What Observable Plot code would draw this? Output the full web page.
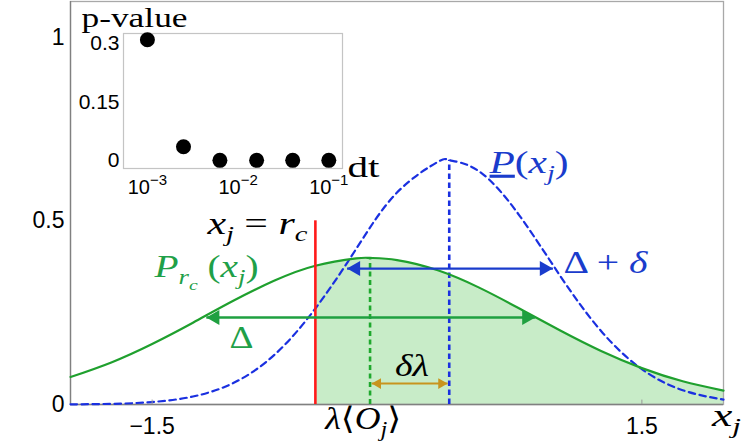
<!DOCTYPE html>
<html>
<head>
<meta charset="utf-8">
<script src="https://cdn.jsdelivr.net/npm/d3@7"></script>
<script src="https://cdn.jsdelivr.net/npm/@observablehq/plot@0.6"></script>
<style>
  html, body { margin: 0; padding: 0; background: white; }
  #wrap { position: relative; width: 748px; height: 443px; }
  #wrap svg text { white-space: pre; }
</style>
</head>
<body>
<div id="wrap"></div>
<script>
// ---------- main chart data ----------
const xTicks = [-1.5, 1.5];
const yTicks = [0, 0.5, 1];

// green density P_rc(x_j)
const greenX = [-2, -1.75, -1.5, -1.25, -1, -0.75, -0.5, -0.25, -0.165, 0, 0.25, 0.5, 0.75, 1, 1.25, 1.5, 1.75, 2];
const greenY = [0.0748, 0.1146, 0.1648, 0.2227, 0.2829, 0.3373, 0.3778, 0.3977, 0.399, 0.3932, 0.3653, 0.3188, 0.2613, 0.2013, 0.1456, 0.0990, 0.0632, 0.0379];

// blue dashed density P(x_j)
const blueX = [-2, -1.75, -1.5, -1.25, -1, -0.75, -0.5, -0.25, 0, 0.25, 0.32, 0.5, 0.75, 1, 1.25, 1.5, 1.75, 2];
const blueY = [0.0004, 0.0017, 0.0067, 0.0217, 0.0591, 0.1356, 0.2614, 0.4235, 0.5768, 0.6605, 0.665, 0.6357, 0.5144, 0.3499, 0.2001, 0.0961, 0.0389, 0.0132];

// threshold x_j = r_c
const threshold = [-0.5];
const thresholdTop = [0.5];

// dashed verticals at the means
const meanNames = ["green", "blue"];
const meanX = [-0.165, 0.32];
const meanTop = [0.399, 0.665];

// double-headed arrows
const arrowNames = ["Delta+delta", "Delta", "deltaLambda"];
const arrowX1 = [-0.306, -1.168, -0.155];
const arrowX2 = [0.955, 0.847, 0.31];
const arrowY = [0.37, 0.237, 0.057];

// text labels
const labelText = ["xj = rc", "Prc(xj)", "Δ", "Δ + δ", "P(xj)", "δλ", "λ⟨Oj⟩", "xj"];
const labelX = [-0.549, -1.485, -0.953, 1.02, 0.567, 0.092, -0.439, 1.929];
const labelY = [0.465, 0.348, 0.155, 0.358, 0.631, 0.078, -0.066, -0.058];

// ---------- inset data ----------
const dtValues = [0.001, 0.0025, 0.0063, 0.016, 0.04, 0.1];
const pValues = [0.31, 0.035, 0, 0, 0, 0];
const insetXTicks = [0.001, 0.01, 0.1];
const insetYTicks = [0, 0.15, 0.3];
const insetYLabel = ["p-value"];
const insetXLabel = ["dt"];

// ---------- styling (kept apart from the data) ----------
const arrowStyle = {
  "Delta+delta": {color: "#1a3ccc", w: 2.4, r: 5.6},
  "Delta": {color: "#1fa040", w: 2.4, r: 5.6},
  "deltaLambda": {color: "#c8941e", w: 2, r: 4}
};
const labelStyle = {
  "xj = rc": {a: "end", c: "black", w: 100},
  "Prc(xj)": {a: "start", c: "#1fa048", w: 104},
  "Δ": {a: "middle", c: "#1fa048", w: 24},
  "Δ + δ": {a: "start", c: "#1a3ccc", w: 84},
  "P(xj)": {a: "start", c: "#1a3ccc", w: 79},
  "δλ": {a: "middle", c: "black", w: 34},
  "λ⟨Oj⟩": {a: "start", c: "black", w: 76},
  "xj": {a: "start", c: "black", w: 29},
  "p-value": {w: 106},
  "dt": {w: 32}
};
const rich = {
  "xj = rc": [["x","i"],["j","i",1],[" = ",""],["r","i"],["c","i",1]],
  "Prc(xj)": [["P","i"],["r","i",1],["c","i",2],[" (",""],["x","i"],["j","i",1],[")",""]],
  "Δ": [["Δ",""]],
  "Δ + δ": [["Δ",""],[" + ",""],["δ","i"]],
  "P(xj)": [["P","iu"],["(",""],["x","i"],["j","i",1],[")",""]],
  "δλ": [["δλ","i"]],
  "λ⟨Oj⟩": [["λ","i"],["⟨",""],["O","i"],["j","i",1],["⟩",""]],
  "xj": [["x","i"],["j","i",1]]
};

// ---------- tables ----------
const green = greenX.map((x, i) => ({x, y: greenY[i]}));
const blue = blueX.map((x, i) => ({x, y: blueY[i]}));
const greenFill = green.filter(d => d.x >= threshold[0]);
const means = meanNames.map((n, i) => ({n, x: meanX[i], top: meanTop[i]}));
const arrows = arrowNames.map((n, i) => ({n, x1: arrowX1[i], x2: arrowX2[i], y: arrowY[i], ...arrowStyle[n]}));
const labels = labelText.map((t, i) => ({t, x: labelX[i], y: labelY[i], a: labelStyle[t].a, c: labelStyle[t].c}));
const insetData = dtValues.map((dt, i) => ({dt, p: pValues[i]}));

const serif = "'Liberation Serif', 'DejaVu Serif', serif";
const sans = "'Liberation Sans', Arial, sans-serif";

function headMarks(dir) {
  return arrows.map(a => Plot.dot([a], {
    x: dir > 0 ? "x2" : "x1", y: "y", symbol: "triangle", r: a.r,
    fill: a.color, stroke: "none", rotate: dir > 0 ? 90 : -90,
    dx: -dir * 2 * Math.sqrt(Math.PI * a.r * a.r / (3 * Math.sqrt(3)))
  }));
}

function labelMarks(anchor) {
  return Plot.text(labels.filter(d => d.a === anchor), {
    x: "x", y: "y", text: "t", textAnchor: anchor, fill: "c",
    fontFamily: serif, fontSize: 31, lineAnchor: "bottom"
  });
}

const main = Plot.plot({
  width: 748, height: 443,
  marginLeft: 70, marginRight: 25, marginTop: 1, marginBottom: 39,
  x: {domain: [-2, 2]},
  y: {domain: [0, 1.097]},
  style: {fontFamily: sans, fontSize: "23px", color: "black", background: "white", overflow: "visible"},
  marks: [
    Plot.areaY(greenFill, {x: "x", y: "y", fill: "#c8ecc8", curve: "natural"}),
    Plot.frame({stroke: "#a8a8a8", strokeWidth: 1.3}),
    Plot.ruleY([0], {stroke: "#808080", strokeWidth: 1.3}),
    Plot.ruleX([-2], {stroke: "#808080", strokeWidth: 1.3}),
    Plot.ruleX(means.filter(d => d.n === "green"), {x: "x", y1: 0, y2: "top", stroke: "#1fa82e", strokeWidth: 2.6, strokeDasharray: "5,3.5"}),
    Plot.ruleX(means.filter(d => d.n === "blue"), {x: "x", y1: 0, y2: "top", stroke: "#1a30e0", strokeWidth: 2.6, strokeDasharray: "5.5,3.5"}),
    Plot.line(blue, {x: "x", y: "y", stroke: "#1a30e0", strokeWidth: 2.2, strokeDasharray: "6.5,4.5", curve: "natural"}),
    Plot.line(green, {x: "x", y: "y", stroke: "#1fa02e", strokeWidth: 2.2, curve: "natural"}),
    Plot.ruleX(threshold, {x: d => d, y1: 0, y2: thresholdTop[0], stroke: "#ff1a1a", strokeWidth: 2.6}),
    Plot.link(arrows, {x1: "x1", x2: "x2", y1: "y", y2: "y", stroke: "color", strokeWidth: "w"}),
    ...headMarks(1),
    ...headMarks(-1),
    Plot.ruleX(xTicks, {x: d => d, y1: 0, y2: 0.012, stroke: "#999"}),
    Plot.axisX({ticks: xTicks, tickSize: 0, tickPadding: 13, label: null}),
    Plot.axisY({ticks: yTicks, tickSize: 0, tickPadding: 6, label: null, tickFormat: d => String(d)}),
    labelMarks("start"),
    labelMarks("middle"),
    labelMarks("end")
  ]
});

const inset = Plot.plot({
  width: 400, height: 200,
  marginLeft: 123, marginRight: 58, marginTop: 33, marginBottom: 32,
  x: {type: "log", domain: [0.000545, 0.1416]},
  y: {domain: [-0.021, 0.326]},
  style: {fontFamily: sans, fontSize: "21px", color: "black", background: "transparent", overflow: "visible"},
  marks: [
    Plot.frame({stroke: "#c4c4c4", strokeWidth: 1.2}),
    Plot.axisX({ticks: insetXTicks, tickSize: 0, tickPadding: 11, label: null,
      tickFormat: d => "10^" + Math.round(Math.log10(d))}),
    Plot.axisY({ticks: insetYTicks, tickSize: 0, tickPadding: 4, label: null,
      tickFormat: d => String(d)}),
    Plot.dot(insetData, {x: "dt", y: "p", r: 7.5, fill: "black", stroke: "none"}),
    Plot.text(insetYLabel, {frameAnchor: "top-left", text: d => d, textAnchor: "start", lineAnchor: "bottom",
      dx: -42, dy: -7, fontFamily: serif, fontSize: 28}),
    Plot.text(insetXLabel, {frameAnchor: "bottom-right", text: d => d, textAnchor: "start", lineAnchor: "bottom",
      dx: 5, dy: 8, fontFamily: serif, fontSize: 30})
  ]
});
inset.style.position = "absolute";
inset.style.left = "0px";
inset.style.top = "0px";

const wrap = document.getElementById("wrap");
wrap.appendChild(main);
wrap.appendChild(inset);

// explicit tick-label font sizes, set on the text elements themselves
function tickFont(root, sizeOf) {
  d3.select(root).selectAll("text").each(function() {
    const key = this.textContent;
    if (rich[key] || labelStyle[key]) return;
    const px = sizeOf(key);
    if (px) {
      this.style.fontSize = px + "px";
      this.style.fontFamily = sans;
    }
  });
}
tickFont(main, () => 23);
tickFont(inset, k => /^10\^/.test(k) ? 20 : 21);

// rich text: italic / subscripts / superscripts / underline, and width fitting
const levels = {"0": [1, 0], "1": [0.68, 0.24], "2": [0.5, 0.42], "-1": [0.75, -0.45]};
function richify(root) {
  d3.select(root).selectAll("text").each(function() {
    const key = this.textContent;
    let segs = rich[key];
    const m = /^10\^(-?\d+)$/.exec(key);
    if (m) segs = [["10",""],[m[1].replace("-", "−"),"",-1]];
    const st = labelStyle[key];
    if (segs) {
      const fs = parseFloat(getComputedStyle(this).fontSize);
      const t = d3.select(this);
      t.text(null);
      let cur = 0;
      for (const [s, flags, lvl = 0] of segs) {
        const [sc, off] = levels[String(lvl)];
        const ts = t.append("tspan").text(s);
        ts.style("font-size", (fs * sc) + "px");
        const dy = off * fs - cur;
        if (dy) ts.attr("dy", dy + "px");
        cur = off * fs;
        if (flags.includes("i")) ts.attr("font-style", "italic");
        if (flags.includes("u")) ts.attr("text-decoration", "underline");
      }
    }
    if (st && st.w) {
      this.setAttribute("textLength", st.w);
      this.setAttribute("lengthAdjust", "spacingAndGlyphs");
    }
  });
}
richify(main);
richify(inset);
</script>
</body>
</html>
